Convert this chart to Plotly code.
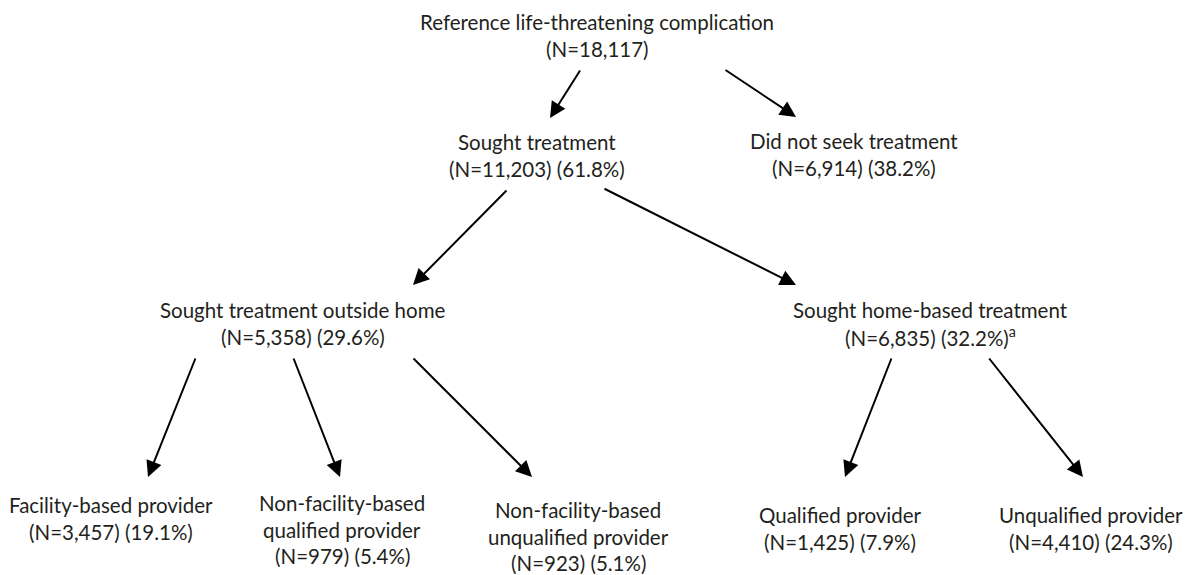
import plotly.graph_objects as go

# ---- data ----
node_titles = [
    ["Reference life-threatening complication"],
    ["Sought treatment"],
    ["Did not seek treatment"],
    ["Sought treatment outside home"],
    ["Sought home-based treatment"],
    ["Facility-based provider"],
    ["Non-facility-based", "qualified provider"],
    ["Non-facility-based", "unqualified provider"],
    ["Qualified provider"],
    ["Unqualified provider"],
]
node_n = [18117, 11203, 6914, 5358, 6835, 3457, 979, 923, 1425, 4410]
node_pct = [None, "61.8", "38.2", "29.6", "32.2", "19.1", "5.4", "5.1", "7.9", "24.3"]
node_note = ["", "", "", "", "a", "", "", "", "", ""]
edges = [(0, 1), (0, 2), (1, 3), (1, 4), (3, 5), (3, 6), (3, 7), (4, 8), (4, 9)]

# ---- layout (pixel positions) ----
node_cx = [597, 537, 854, 303, 930, 111, 342, 578, 840, 1091]
node_y0 = [22, 142, 141, 310, 310, 505, 503, 510, 515, 515]
line_gap = 26.5
edge_start = [(581, 69), (724, 69), (508, 189), (603, 188), (196, 357),
              (293, 357), (412, 357), (892, 357), (988, 357)]
edge_tip = [(550, 118), (796, 117), (413, 285), (796, 285), (148, 477),
            (340, 477), (532, 477), (845, 477), (1083, 477)]

FONT = dict(family="Lato, 'Open Sans', sans-serif", size=20.5, color="#231f20")

fig = go.Figure()
fig.add_trace(go.Scatter(x=[0, 1193], y=[0, 575], mode="markers",
                         marker=dict(opacity=0), hoverinfo="skip", showlegend=False))

annotations = []
for i, title in enumerate(node_titles):
    stat = f"(N={node_n[i]:,})"
    if node_pct[i] is not None:
        stat += f" ({node_pct[i]}%)"
    if node_note[i]:
        stat += f"<sup>{node_note[i]}</sup>"
    lines = list(title) + [stat]
    for k, ln in enumerate(lines):
        annotations.append(dict(
            x=node_cx[i], y=node_y0[i] + k * line_gap, xref="x", yref="y",
            text=ln, showarrow=False, xanchor="center", yanchor="middle",
            font=FONT))

for (sx, sy), (tx, ty) in zip(edge_start, edge_tip):
    annotations.append(dict(
        x=tx, y=ty, ax=sx, ay=sy, xref="x", yref="y", axref="x", ayref="y",
        text="", showarrow=True, arrowhead=2, arrowsize=1.6, arrowwidth=2,
        arrowcolor="#000000", standoff=0))

fig.update_layout(
    width=1193, height=575,
    margin=dict(l=0, r=0, t=0, b=0),
    paper_bgcolor="white", plot_bgcolor="white",
    xaxis=dict(range=[0, 1193], visible=False, fixedrange=True),
    yaxis=dict(range=[575, 0], visible=False, fixedrange=True),
    annotations=annotations,
    showlegend=False,
)

fig.write_html("out.html", config={"displayModeBar": False},
               post_script="document.body.style.margin='0';document.body.style.overflow='hidden';")
